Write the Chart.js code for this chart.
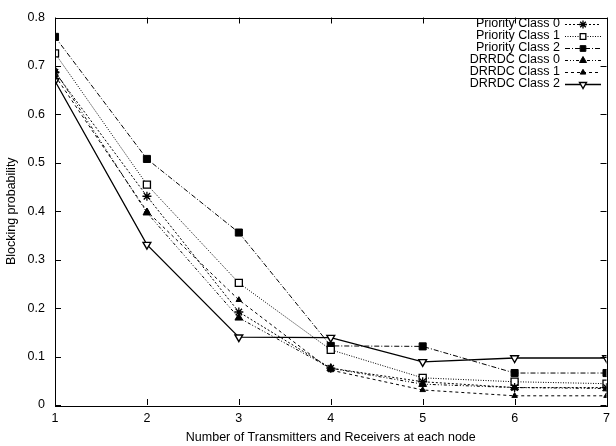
<!DOCTYPE html>
<html>
<head>
<meta charset="utf-8">
<script src="https://cdn.jsdelivr.net/npm/chart.js@4/dist/chart.umd.min.js"></script>
<style>
html,body{margin:0;padding:0;background:#fff;}
#wrap{width:616px;height:446px;}
</style>
</head>
<body>
<div id="wrap"><canvas id="c" width="616" height="446"></canvas></div>
<script>
const xValues = [1, 2, 3, 4, 5, 6, 7];
const priorityClass0 = [0.687, 0.431, 0.192, 0.076, 0.048, 0.036, 0.036];
const priorityClass1 = [0.726, 0.455, 0.252, 0.114, 0.056, 0.048, 0.044];
const priorityClass2 = [0.760, 0.508, 0.356, 0.122, 0.121, 0.066, 0.066];
const drrdcClass0   = [0.690, 0.397, 0.180, 0.076, 0.043, 0.036, 0.034];
const drrdcClass1   = [0.680, 0.400, 0.217, 0.072, 0.031, 0.019, 0.019];
const drrdcClass2   = [0.669, 0.331, 0.140, 0.139, 0.089, 0.097, 0.097];
const seriesNames = ['Priority Class 0','Priority Class 1','Priority Class 2','DRRDC Class 0','DRRDC Class 1','DRRDC Class 2'];
const yTicks = [0, 0.1, 0.2, 0.3, 0.4, 0.5, 0.6, 0.7, 0.8];

const FONT = "'Liberation Sans', Arial, sans-serif";
const FS = 12.5;
function pts(arr){ return arr.map((v,i)=>({x:xValues[i], y:v})); }

const styles = [
  {data: priorityClass0, dash:[2,2], pointStyle:'star', radius:4.5, bg:'#000', bw:1.3, rot:0},
  {data: priorityClass1, dash:[1,1.5], pointStyle:'rect', radius:5, bg:'#fff', bw:1.3, rot:0},
  {data: priorityClass2, dash:[5,2,1,2], pointStyle:'rect', radius:5, bg:'#000', bw:1, rot:0},
  {data: drrdcClass0, dash:[3,2,1,2,1,2], pointStyle:'triangle', radius:4.5, bg:'#000', bw:1, rot:0},
  {data: drrdcClass1, dash:[3,3], pointStyle:'triangle', radius:3.2, bg:'#000', bw:1, rot:0},
  {data: drrdcClass2, dash:[], pointStyle:'triangle', radius:4.5, bg:'#fff', bw:1.4, rot:180},
];

const datasets = styles.map((s,i)=>({
  label: seriesNames[i],
  data: pts(s.data),
  borderColor:'#000',
  borderWidth: i===5 ? 1.3 : 1,
  borderDash: s.dash,
  pointStyle: s.pointStyle,
  pointRadius: s.radius,
  pointRotation: s.rot,
  pointBackgroundColor: s.bg,
  pointBorderColor:'#000',
  pointBorderWidth: s.bw,
  fill:false,
  tension:0
}));

const framePlugin = {
  id:'frame',
  afterDraw(chart){
    const ctx = chart.ctx, a = chart.chartArea;
    const xs = chart.scales.x, ys = chart.scales.y;
    ctx.save();
    ctx.strokeStyle = '#000';
    ctx.lineWidth = 1;
    ctx.setLineDash([]);
    ctx.strokeRect(Math.round(a.left)+0.5, Math.round(a.top)+0.5, Math.round(a.right-a.left), Math.round(a.bottom-a.top));
    ctx.beginPath();
    const T = 6;
    yTicks.forEach(v=>{
      const y = Math.round(ys.getPixelForValue(v))+0.5;
      ctx.moveTo(a.left, y); ctx.lineTo(a.left+T, y);
      ctx.moveTo(a.right, y); ctx.lineTo(a.right-T, y);
    });
    xValues.forEach(v=>{
      const x = Math.round(xs.getPixelForValue(v))+0.5;
      ctx.moveTo(x, a.bottom); ctx.lineTo(x, a.bottom-T);
      ctx.moveTo(x, a.top); ctx.lineTo(x, a.top+T);
    });
    ctx.stroke();

    // legend
    const textRight = 560, lineL = 565, lineR = 601, mx = 583;
    const y0 = 24, dy = 12;
    ctx.font = FS + 'px ' + FONT;
    ctx.textAlign = 'right';
    ctx.textBaseline = 'middle';
    ctx.fillStyle = '#000';
    chart.data.datasets.forEach((ds,i)=>{
      const y = y0 + i*dy;
      ctx.fillText(ds.label, textRight, y);
      ctx.save();
      ctx.strokeStyle = '#000';
      ctx.lineWidth = ds.borderWidth;
      ctx.setLineDash(ds.borderDash);
      ctx.beginPath();
      ctx.moveTo(lineL, Math.round(y)+0.5); ctx.lineTo(lineR, Math.round(y)+0.5);
      ctx.stroke();
      ctx.setLineDash([]);
      ctx.fillStyle = ds.pointBackgroundColor;
      ctx.strokeStyle = '#000';
      ctx.lineWidth = ds.pointBorderWidth;
      Chart.helpers.drawPoint(ctx, {pointStyle: ds.pointStyle, radius: Math.min(ds.pointRadius, 4), rotation: ds.pointRotation, borderWidth: ds.pointBorderWidth}, mx, Math.round(y)+0.5);
      ctx.restore();
    });
    ctx.restore();
  }
};

new Chart(document.getElementById('c'), {
  type:'line',
  data:{datasets},
  plugins:[framePlugin],
  options:{
    responsive:false,
    animation:false,
    devicePixelRatio:1,
    layout:{padding:{top:14, right:4, left:0, bottom:0}},
    plugins:{legend:{display:false}, tooltip:{enabled:false}},
    scales:{
      x:{
        type:'linear', min:1, max:7,
        afterBuildTicks(scale){ scale.ticks = xValues.map(v=>({value:v})); },
        grid:{display:false, drawTicks:false},
        border:{display:false},
        ticks:{padding:6, color:'#000', font:{family:FONT, size:FS}, maxRotation:0, callback:v=>String(v)},
        title:{display:true, text:'Number of Transmitters and Receivers at each node', color:'#000', font:{family:FONT, size:FS}, padding:{top:4, bottom:1}},
        afterFit(scale){ scale.height = 41; }
      },
      y:{
        type:'linear', min:0, max:0.8,
        afterBuildTicks(scale){ scale.ticks = yTicks.map(v=>({value:v})); },
        grid:{display:false, drawTicks:false},
        border:{display:false},
        ticks:{padding:10, color:'#000', font:{family:FONT, size:FS}, callback:v=>(v===0?'0':v.toFixed(1))},
        title:{display:true, text:'Blocking probability', color:'#000', font:{family:FONT, size:FS}, padding:{top:4, bottom:0}},
        afterFit(scale){ scale.width = 55; }
      }
    }
  }
});
</script>
</body>
</html>
